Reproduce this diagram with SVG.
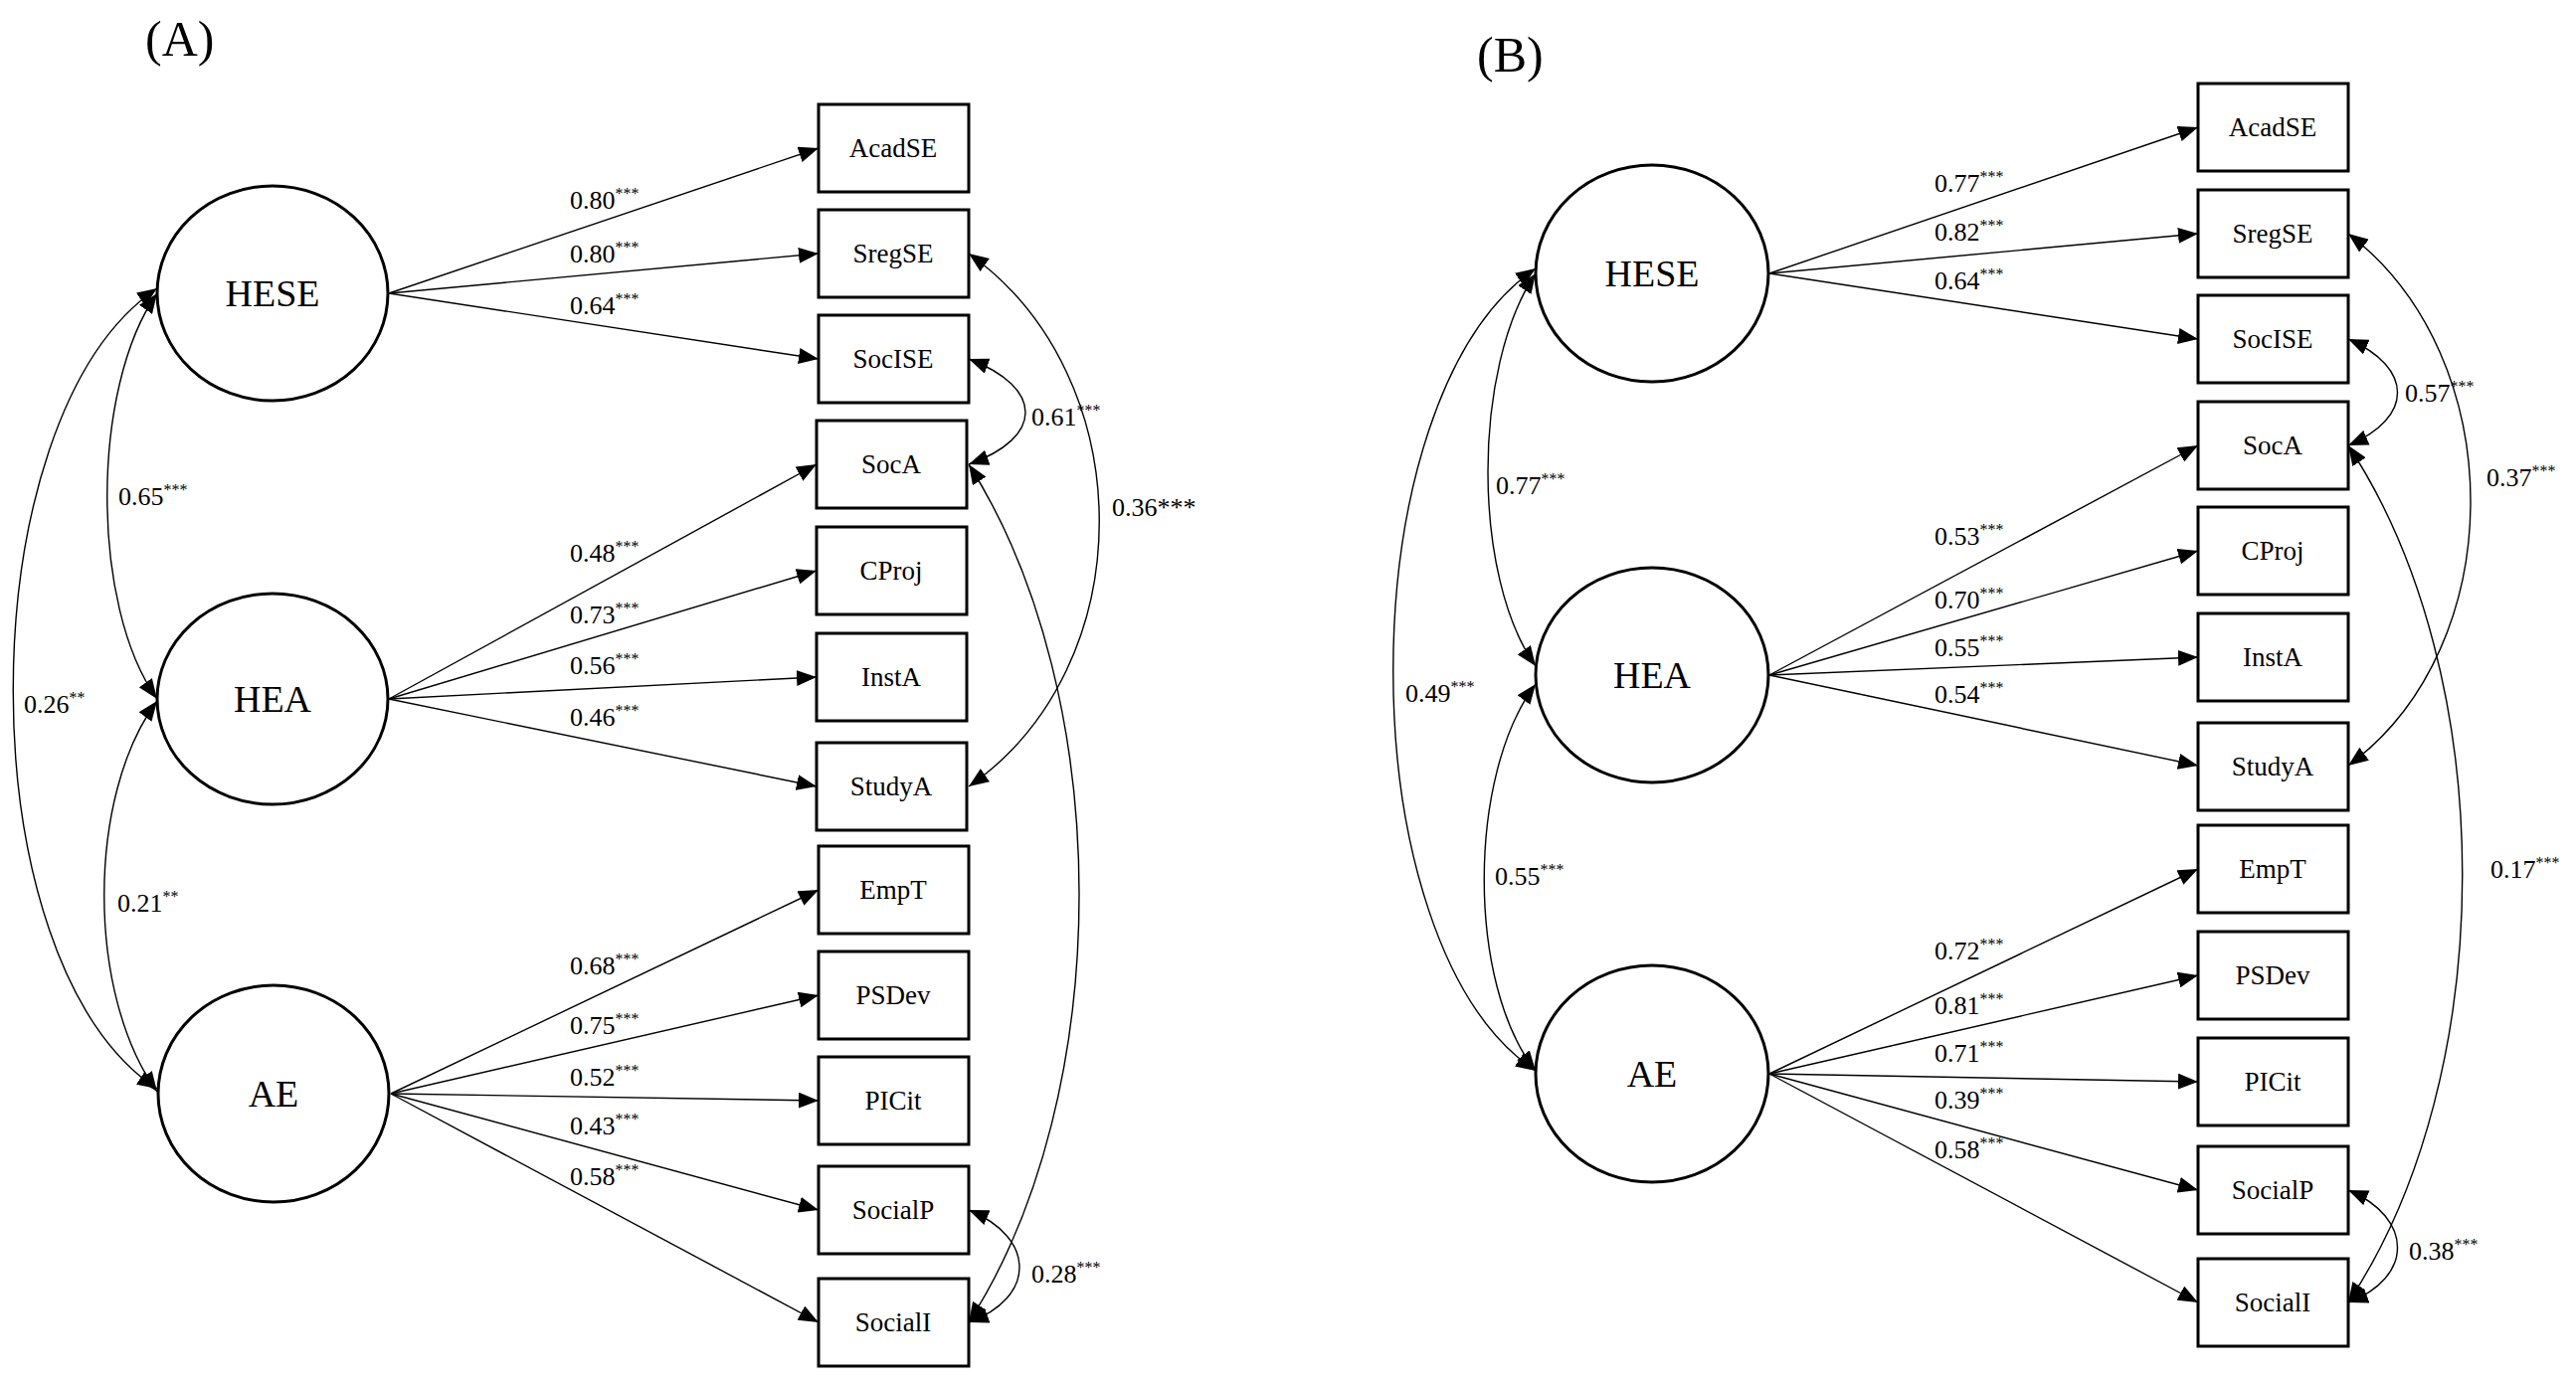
<svg xmlns="http://www.w3.org/2000/svg" width="2590" height="1390" viewBox="0 0 2590 1390">
<style>
text{font-family:"Liberation Serif","Times New Roman",serif;fill:#000}
.lv ellipse{fill:#fff;stroke:#000;stroke-width:3}
.lv text{font-size:38px;text-anchor:middle}
.ob rect{fill:#fff;stroke:#000;stroke-width:3}
.ob text{font-size:27px;text-anchor:middle}
.c path{fill:none;stroke:#000;stroke-width:1.4}
.c .p{marker-end:url(#ah)}
.c .cv{marker-start:url(#ah);marker-end:url(#ah)}
.lb{font-size:26px}
.lb tspan{font-size:16px}
.pl{font-size:50px}
</style>
<defs>
<marker id="ah" markerWidth="20" markerHeight="16" refX="20" refY="8" orient="auto-start-reverse" markerUnits="userSpaceOnUse"><path d="M0,0 L20,8 L0,16 z" fill="#000"/></marker>
</defs>
<text class="pl" x="146" y="56">(A)</text>
<text class="pl" x="1485" y="72">(B)</text>
<g class="c" id="connectors">
<path class="p" d="M391,295 L823,149"/>
<path class="p" d="M391,295 L823,255"/>
<path class="p" d="M391,295 L823,361"/>
<path class="p" d="M391,703 L821,467"/>
<path class="p" d="M391,703 L821,574"/>
<path class="p" d="M391,703 L821,681"/>
<path class="p" d="M391,703 L821,791"/>
<path class="p" d="M393,1100 L823,895"/>
<path class="p" d="M393,1100 L823,1001"/>
<path class="p" d="M393,1100 L823,1107"/>
<path class="p" d="M393,1100 L823,1217"/>
<path class="p" d="M393,1100 L823,1330"/>
<path class="cv" d="M158,295 C91,390 91,610 158,703"/>
<path class="cv" d="M158,705 C87,800 87,1000 158,1098"/>
<path class="cv" d="M158,290 C-35,420 -35,970 158,1095"/>
<path class="cv" d="M974,255 C1149,380 1149,670 974,791"/>
<path class="cv" d="M974,361 C1050,390 1050,440 974,467"/>
<path class="cv" d="M974,467 C1122,700 1122,1100 974,1330"/>
<path class="cv" d="M974,1217 C1042,1245 1042,1305 974,1330"/>
<path class="p" d="M1779,275 L2210,128"/>
<path class="p" d="M1779,275 L2210,235"/>
<path class="p" d="M1779,275 L2210,341"/>
<path class="p" d="M1779,679 L2210,448"/>
<path class="p" d="M1779,679 L2210,554"/>
<path class="p" d="M1779,679 L2210,661"/>
<path class="p" d="M1779,679 L2210,770"/>
<path class="p" d="M1779,1080 L2210,874"/>
<path class="p" d="M1779,1080 L2210,981"/>
<path class="p" d="M1779,1080 L2210,1088"/>
<path class="p" d="M1779,1080 L2210,1197"/>
<path class="p" d="M1779,1080 L2210,1310"/>
<path class="cv" d="M1544,275 C1480,370 1480,580 1544,670"/>
<path class="cv" d="M1544,688 C1475,780 1475,990 1544,1077"/>
<path class="cv" d="M1544,270 C1353,400 1353,950 1544,1077"/>
<path class="cv" d="M2361,235 C2525,360 2525,650 2361,770"/>
<path class="cv" d="M2361,341 C2427,370 2427,420 2361,448"/>
<path class="cv" d="M2361,448 C2514,680 2514,1080 2361,1310"/>
<path class="cv" d="M2361,1197 C2427,1225 2427,1285 2361,1310"/>
</g>
<g class="lb">
<text x="573" y="210">0.80<tspan dy="-10">***</tspan></text>
<text x="573" y="264">0.80<tspan dy="-10">***</tspan></text>
<text x="573" y="316">0.64<tspan dy="-10">***</tspan></text>
<text x="573" y="565">0.48<tspan dy="-10">***</tspan></text>
<text x="573" y="627">0.73<tspan dy="-10">***</tspan></text>
<text x="573" y="678">0.56<tspan dy="-10">***</tspan></text>
<text x="573" y="730">0.46<tspan dy="-10">***</tspan></text>
<text x="573" y="980">0.68<tspan dy="-10">***</tspan></text>
<text x="573" y="1040">0.75<tspan dy="-10">***</tspan></text>
<text x="573" y="1092">0.52<tspan dy="-10">***</tspan></text>
<text x="573" y="1141">0.43<tspan dy="-10">***</tspan></text>
<text x="573" y="1192">0.58<tspan dy="-10">***</tspan></text>
<text x="119" y="508">0.65<tspan dy="-10">***</tspan></text>
<text x="118" y="917">0.21<tspan dy="-10">**</tspan></text>
<text x="24" y="717">0.26<tspan dy="-10">**</tspan></text>
<text x="1037" y="428">0.61<tspan dy="-10">***</tspan></text>
<text x="1118" y="519">0.36***</text>
<text x="1037" y="1290">0.28<tspan dy="-10">***</tspan></text>
<text x="1945" y="193">0.77<tspan dy="-10">***</tspan></text>
<text x="1945" y="242">0.82<tspan dy="-10">***</tspan></text>
<text x="1945" y="291">0.64<tspan dy="-10">***</tspan></text>
<text x="1945" y="548">0.53<tspan dy="-10">***</tspan></text>
<text x="1945" y="612">0.70<tspan dy="-10">***</tspan></text>
<text x="1945" y="660">0.55<tspan dy="-10">***</tspan></text>
<text x="1945" y="707">0.54<tspan dy="-10">***</tspan></text>
<text x="1945" y="965">0.72<tspan dy="-10">***</tspan></text>
<text x="1945" y="1020">0.81<tspan dy="-10">***</tspan></text>
<text x="1945" y="1068">0.71<tspan dy="-10">***</tspan></text>
<text x="1945" y="1115">0.39<tspan dy="-10">***</tspan></text>
<text x="1945" y="1165">0.58<tspan dy="-10">***</tspan></text>
<text x="1504" y="497">0.77<tspan dy="-10">***</tspan></text>
<text x="1503" y="890">0.55<tspan dy="-10">***</tspan></text>
<text x="1413" y="706">0.49<tspan dy="-10">***</tspan></text>
<text x="2418" y="404">0.57<tspan dy="-10">***</tspan></text>
<text x="2500" y="489">0.37<tspan dy="-10">***</tspan></text>
<text x="2504" y="883">0.17<tspan dy="-10">***</tspan></text>
<text x="2422" y="1267">0.38<tspan dy="-10">***</tspan></text>
</g>
<g class="lv" id="A_HESE"><ellipse cx="274" cy="295" rx="116" ry="108"/><text x="274" y="308">HESE</text></g>
<g class="lv" id="A_HEA"><ellipse cx="274" cy="703" rx="116" ry="106"/><text x="274" y="716">HEA</text></g>
<g class="lv" id="A_AE"><ellipse cx="275" cy="1100" rx="116" ry="109"/><text x="275" y="1113">AE</text></g>
<g class="ob" id="A_AcadSE"><rect x="823" y="105" width="151" height="88"/><text x="898" y="158">AcadSE</text></g>
<g class="ob" id="A_SregSE"><rect x="823" y="211" width="151" height="88"/><text x="898" y="264">SregSE</text></g>
<g class="ob" id="A_SocISE"><rect x="823" y="317" width="151" height="88"/><text x="898" y="370">SocISE</text></g>
<g class="ob" id="A_SocA"><rect x="821" y="423" width="151" height="88"/><text x="896" y="476">SocA</text></g>
<g class="ob" id="A_CProj"><rect x="821" y="530" width="151" height="88"/><text x="896" y="583">CProj</text></g>
<g class="ob" id="A_InstA"><rect x="821" y="637" width="151" height="88"/><text x="896" y="690">InstA</text></g>
<g class="ob" id="A_StudyA"><rect x="821" y="747" width="151" height="88"/><text x="896" y="800">StudyA</text></g>
<g class="ob" id="A_EmpT"><rect x="823" y="851" width="151" height="88"/><text x="898" y="904">EmpT</text></g>
<g class="ob" id="A_PSDev"><rect x="823" y="957" width="151" height="88"/><text x="898" y="1010">PSDev</text></g>
<g class="ob" id="A_PICit"><rect x="823" y="1063" width="151" height="88"/><text x="898" y="1116">PICit</text></g>
<g class="ob" id="A_SocialP"><rect x="823" y="1173" width="151" height="88"/><text x="898" y="1226">SocialP</text></g>
<g class="ob" id="A_SocialI"><rect x="823" y="1286" width="151" height="88"/><text x="898" y="1339">SocialI</text></g>
<g class="lv" id="B_HESE"><ellipse cx="1661" cy="275" rx="117" ry="109"/><text x="1661" y="288">HESE</text></g>
<g class="lv" id="B_HEA"><ellipse cx="1661" cy="679" rx="117" ry="108"/><text x="1661" y="692">HEA</text></g>
<g class="lv" id="B_AE"><ellipse cx="1661" cy="1080" rx="117" ry="109"/><text x="1661" y="1093">AE</text></g>
<g class="ob" id="B_AcadSE"><rect x="2210" y="84" width="151" height="88"/><text x="2285" y="137">AcadSE</text></g>
<g class="ob" id="B_SregSE"><rect x="2210" y="191" width="151" height="88"/><text x="2285" y="244">SregSE</text></g>
<g class="ob" id="B_SocISE"><rect x="2210" y="297" width="151" height="88"/><text x="2285" y="350">SocISE</text></g>
<g class="ob" id="B_SocA"><rect x="2210" y="404" width="151" height="88"/><text x="2285" y="457">SocA</text></g>
<g class="ob" id="B_CProj"><rect x="2210" y="510" width="151" height="88"/><text x="2285" y="563">CProj</text></g>
<g class="ob" id="B_InstA"><rect x="2210" y="617" width="151" height="88"/><text x="2285" y="670">InstA</text></g>
<g class="ob" id="B_StudyA"><rect x="2210" y="727" width="151" height="88"/><text x="2285" y="780">StudyA</text></g>
<g class="ob" id="B_EmpT"><rect x="2210" y="830" width="151" height="88"/><text x="2285" y="883">EmpT</text></g>
<g class="ob" id="B_PSDev"><rect x="2210" y="937" width="151" height="88"/><text x="2285" y="990">PSDev</text></g>
<g class="ob" id="B_PICit"><rect x="2210" y="1044" width="151" height="88"/><text x="2285" y="1097">PICit</text></g>
<g class="ob" id="B_SocialP"><rect x="2210" y="1153" width="151" height="88"/><text x="2285" y="1206">SocialP</text></g>
<g class="ob" id="B_SocialI"><rect x="2210" y="1266" width="151" height="88"/><text x="2285" y="1319">SocialI</text></g>
</svg>
